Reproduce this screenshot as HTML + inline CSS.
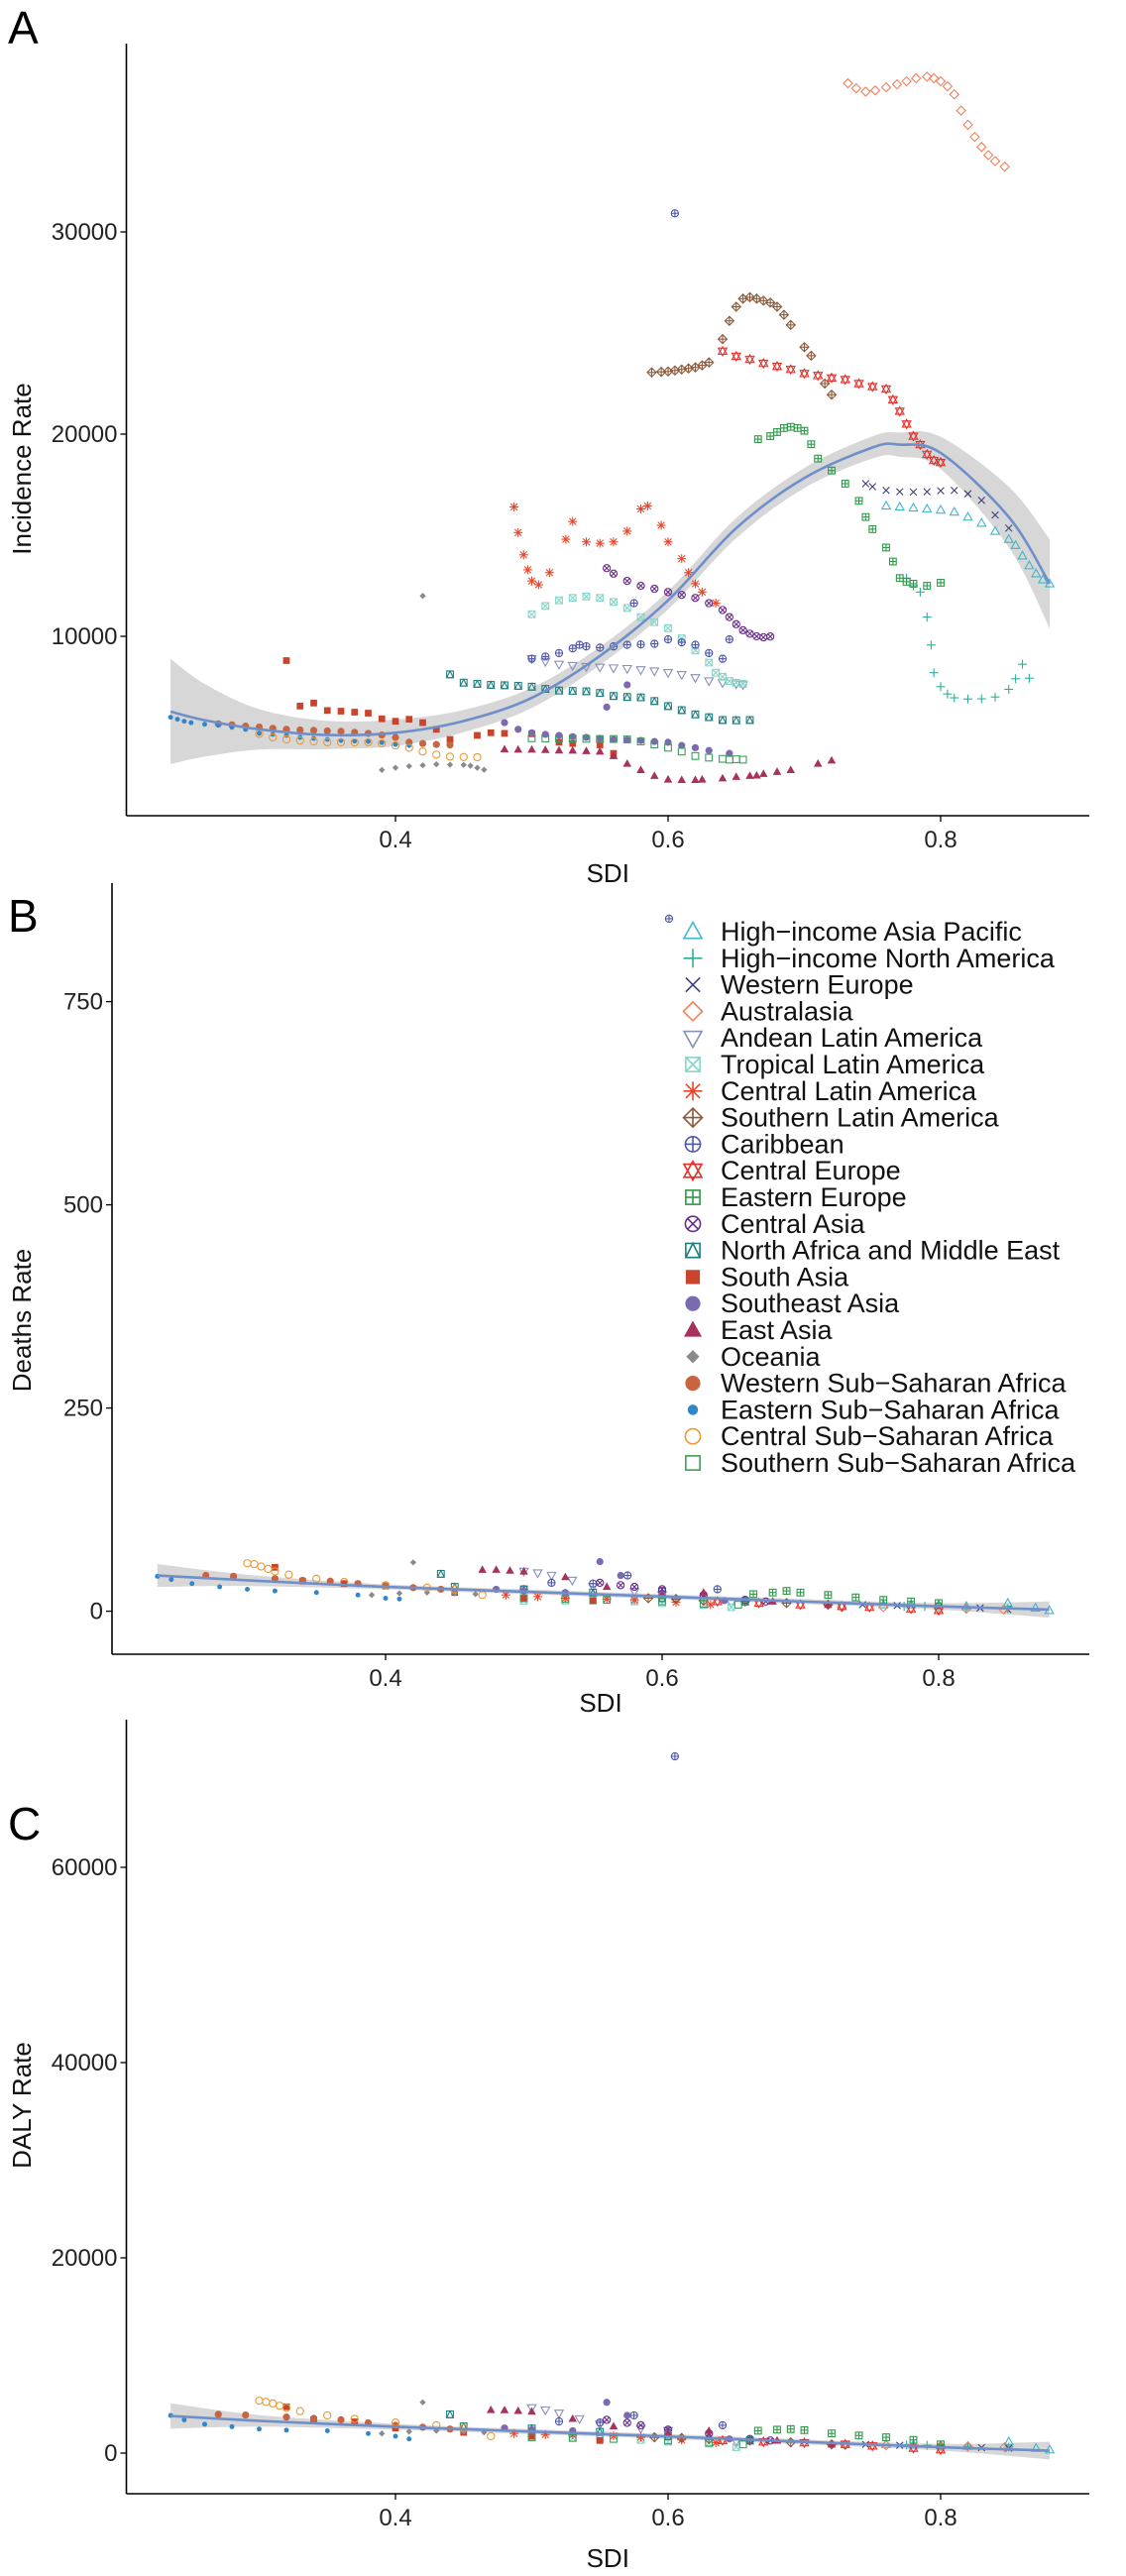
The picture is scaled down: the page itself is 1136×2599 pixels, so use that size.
<!DOCTYPE html>
<html><head><meta charset="utf-8"><style>
html,body{margin:0;padding:0;background:#fff;}
svg{display:block;font-family:"Liberation Sans",sans-serif;}
</style></head><body>
<svg id="fig" width="1136" height="2599" viewBox="0 0 1136 2599"></svg>
<script>
// ===== Panel A (Incidence) data: SDI and incidence rate per region =====
const hiapSdiA=[0.76,0.77,0.78,0.79,0.80,0.81,0.82,0.83,0.84,0.85,0.855,0.86,0.865,0.87,0.875,0.88];
const hiapInc=[16450,16400,16350,16300,16250,16150,15900,15600,15200,14800,14500,13980,13500,13100,12800,12600];
const hinaSdiA=[0.775,0.78,0.785,0.79,0.793,0.795,0.80,0.805,0.81,0.82,0.83,0.84,0.85,0.855,0.86,0.865];
const hinaInc=[12880,12500,12190,10950,9570,8200,7510,7150,6960,6900,6910,7000,7380,7900,8620,7930];
const weSdiA=[0.745,0.75,0.76,0.77,0.78,0.79,0.80,0.81,0.82,0.83,0.84,0.85];
const weInc=[17550,17400,17220,17150,17140,17150,17200,17220,17050,16730,16000,15350];
const ausSdiA=[0.732,0.738,0.745,0.752,0.76,0.768,0.775,0.782,0.79,0.795,0.80,0.805,0.81,0.815,0.82,0.825,0.83,0.835,0.84,0.847];
const ausInc=[37350,37100,36940,37000,37150,37300,37450,37600,37680,37600,37450,37200,36800,36000,35300,34700,34200,33800,33500,33230];
const andSdiA=[0.50,0.51,0.52,0.53,0.54,0.55,0.56,0.57,0.58,0.59,0.60,0.61,0.62,0.63,0.64,0.65,0.655];
const andInc=[8890,8750,8610,8550,8500,8470,8430,8400,8340,8280,8200,8100,7950,7790,7700,7640,7600];
const tlaSdiA=[0.50,0.51,0.52,0.53,0.54,0.55,0.56,0.57,0.58,0.59,0.60,0.61,0.62,0.63,0.635,0.64,0.645,0.65,0.655];
const tlaInc=[11090,11500,11780,11900,11970,11900,11700,11400,10950,10700,10400,9900,9300,8700,8200,8000,7790,7700,7650];
const claSdiA=[0.487,0.49,0.494,0.497,0.50,0.505,0.513,0.525,0.53,0.54,0.55,0.56,0.57,0.58,0.585,0.595,0.60,0.61,0.615,0.62,0.625,0.635];
const claInc=[16400,15130,14030,13290,12740,12550,13150,14800,15680,14670,14600,14670,15200,16300,16450,15490,14670,13840,13150,12600,12190,11640];
const slaSdiA=[0.588,0.595,0.60,0.605,0.61,0.615,0.62,0.625,0.63,0.64,0.645,0.65,0.655,0.66,0.665,0.67,0.675,0.68,0.685,0.69,0.70,0.705,0.715,0.72];
const slaInc=[23050,23080,23100,23150,23200,23250,23300,23400,23550,24700,25600,26300,26700,26770,26700,26600,26500,26300,25900,25400,24300,23880,22500,21950];
const carSdiA=[0.50,0.51,0.52,0.53,0.535,0.54,0.55,0.56,0.57,0.58,0.59,0.60,0.61,0.62,0.63,0.64,0.605,0.575,0.645];
const carInc=[8890,9000,9170,9400,9580,9500,9440,9500,9580,9600,9630,9850,9700,9580,9170,8890,30920,11640,9850];
const ceSdiA=[0.64,0.65,0.66,0.67,0.68,0.69,0.70,0.71,0.72,0.73,0.74,0.75,0.76,0.765,0.77,0.775,0.78,0.785,0.79,0.795,0.80];
const ceInc=[24100,23850,23700,23500,23350,23200,23000,22900,22780,22700,22500,22350,22230,21700,21130,20500,19900,19480,19000,18700,18600];
const eeSdiA=[0.666,0.675,0.68,0.685,0.69,0.695,0.70,0.705,0.71,0.72,0.73,0.74,0.745,0.75,0.76,0.765,0.77,0.775,0.78,0.79,0.80];
const eeInc=[19750,19900,20100,20300,20360,20300,20165,19500,18790,18200,17550,16700,15900,15300,14390,13700,12880,12700,12600,12500,12650];
const caSdiA=[0.555,0.56,0.57,0.58,0.59,0.60,0.61,0.62,0.63,0.64,0.645,0.65,0.655,0.66,0.665,0.67,0.675];
const caInc=[13370,13100,12740,12500,12350,12190,12050,11900,11640,11300,10950,10600,10300,10130,10000,9950,9990];
const nameSdiA=[0.44,0.45,0.46,0.47,0.48,0.49,0.50,0.51,0.52,0.53,0.54,0.55,0.56,0.57,0.58,0.59,0.60,0.61,0.62,0.63,0.64,0.65,0.66];
const nameInc=[8120,7710,7650,7600,7580,7550,7510,7400,7320,7300,7280,7200,7050,7000,6980,6800,6550,6350,6140,6000,5860,5850,5860];
const saSdiA=[0.32,0.33,0.34,0.35,0.36,0.37,0.38,0.39,0.40,0.41,0.42,0.43,0.44,0.46,0.47,0.48,0.50,0.52,0.53,0.55,0.56];
const saInc=[8800,6550,6700,6330,6300,6250,6200,5920,5800,5900,5730,5400,4900,5100,5230,5200,5180,4760,4700,4630,4210];
const seaSdiA=[0.48,0.49,0.50,0.51,0.52,0.53,0.54,0.55,0.56,0.57,0.58,0.59,0.60,0.61,0.62,0.63,0.645,0.555,0.57];
const seaInc=[5730,5400,5230,5150,5100,5040,5000,4950,4900,4880,4850,4800,4760,4600,4490,4350,4210,6500,7600];
const eaSdiA=[0.48,0.49,0.50,0.51,0.52,0.53,0.54,0.55,0.56,0.57,0.58,0.59,0.60,0.61,0.62,0.625,0.64,0.65,0.66,0.665,0.67,0.68,0.69,0.71,0.72];
const eaInc=[4410,4400,4400,4380,4360,4350,4330,4300,4080,3700,3390,3100,2920,2900,2900,2920,2980,3050,3100,3120,3200,3300,3390,3700,3860];
const ocSdiA=[0.42,0.39,0.40,0.41,0.42,0.43,0.44,0.45,0.455,0.46,0.465];
const ocInc=[12000,3390,3500,3580,3620,3670,3650,3640,3600,3500,3400];
const wssaSdiA=[0.27,0.28,0.29,0.30,0.31,0.32,0.33,0.34,0.35,0.36,0.37,0.38,0.39,0.40,0.41,0.42,0.43,0.44];
const wssaInc=[5670,5620,5560,5510,5450,5400,5370,5350,5320,5300,5250,5200,5120,5000,4760,4700,4650,4630];
const essaSdiA=[0.235,0.24,0.245,0.25,0.26,0.27,0.28,0.29,0.30,0.31,0.32,0.33,0.34,0.35,0.36,0.37,0.38,0.39,0.40,0.41];
const essaInc=[6000,5900,5800,5730,5650,5600,5500,5400,5200,5150,5100,5000,4950,4900,4850,4820,4800,4750,4650,4600];
const cssaSdiA=[0.30,0.31,0.32,0.33,0.34,0.35,0.36,0.37,0.38,0.39,0.40,0.41,0.42,0.43,0.44,0.45,0.46];
const cssaInc=[5180,5000,4900,4850,4800,4760,4760,4750,4760,4700,4600,4490,4300,4150,4050,4030,4020];
const sssaSdiA=[0.50,0.51,0.52,0.53,0.54,0.55,0.56,0.57,0.58,0.59,0.60,0.61,0.62,0.63,0.64,0.645,0.65,0.655];
const sssaInc=[4960,4950,4950,4940,4930,4920,4920,4900,4800,4650,4490,4300,4080,4000,3940,3900,3920,3900];
// LOESS fit (panel A)
const fitSdiA=[0.235,0.26,0.30,0.35,0.40,0.45,0.50,0.55,0.60,0.65,0.70,0.75,0.77,0.80,0.85,0.88];
const fitIncA=[6280,5850,5400,5120,5230,5810,6960,9030,11780,15350,17830,19340,19480,19070,15900,12600];
const fitSeA=[2600,1800,1000,700,650,550,500,450,450,500,500,550,600,800,1500,2200];

// ===== Panels B/C (Deaths / DALY) data =====
const hiapSdiB=[0.76,0.78,0.80,0.82,0.85,0.87,0.88];  const hiapDeath=[8,8,8,6,10,4,1];   const hiapDaly=[890,850,780,700,1170,500,340];
const hinaSdiB=[0.775,0.79,0.80,0.82,0.85];           const hinaDeath=[6,6,5,4,3];        const hinaDaly=[840,800,730,680,610];
const weSdiB=[0.745,0.77,0.80,0.83,0.85];             const weDeath=[8,7,5,4,2];          const weDaly=[890,800,610,560,500];
const ausSdiB=[0.73,0.76,0.80,0.82,0.847];            const ausDeath=[5,5,3,3,2];         const ausDaly=[840,800,730,680,610];
const andSdiB=[0.50,0.51,0.52,0.535,0.55,0.58,0.60,0.65]; const andDeath=[49,47,44,38,30,24,20,10]; const andDaly=[4640,4400,4080,3500,2960,2500,2290,1170];
const tlaSdiB=[0.50,0.53,0.55,0.58,0.60,0.63,0.65];   const tlaDeath=[13,13,13,12,10,8,5]; const tlaDaly=[1620,1550,1450,1350,1170,1000,610];
const claSdiB=[0.487,0.51,0.53,0.56,0.58,0.61,0.635]; const claDeath=[20,18,16,15,14,11,8]; const claDaly=[2010,1900,1850,1750,1620,1350,1060];
const slaSdiB=[0.59,0.61,0.63,0.66,0.69,0.72];        const slaDeath=[16,15,13,12,10,8];   const slaDaly=[1620,1550,1450,1290,1100,890];
const carSdiB=[0.50,0.52,0.55,0.575,0.60,0.64,0.605]; const carDeath=[27,35,34,44,25,27,852]; const carDaly=[2290,3240,3130,3860,2400,2850,71370];
const ceSdiB=[0.64,0.67,0.70,0.73,0.75,0.78,0.80];    const ceDeath=[12,10,8,6,5,3,1];    const ceDaly=[1290,1150,1060,900,730,500,340];
const eeSdiB=[0.666,0.68,0.69,0.70,0.72,0.74,0.76,0.78,0.80]; const eeDeath=[21,23,25,23,20,17,14,12,10]; const eeDaly=[2290,2400,2460,2350,2010,1800,1620,1350,890];
const caSdiB=[0.555,0.57,0.58,0.60,0.63,0.66,0.675];  const caDeath=[35,32,30,27,20,14,12]; const caDaly=[3410,3100,2850,2400,2010,1450,1290];
const nameSdiB=[0.44,0.45,0.50,0.55,0.60,0.66];       const nameDeath=[46,30,27,23,16,12]; const nameDaly=[3970,2740,2520,2180,1730,1290];
const saSdiB=[0.32,0.34,0.37,0.40,0.45,0.50,0.55];    const saDeath=[54,37,34,31,23,16,13]; const saDaly=[4750,3410,3200,2570,2120,1730,1290];
const seaSdiB=[0.48,0.50,0.53,0.555,0.57,0.60,0.645]; const seaDeath=[27,25,23,61,44,20,13]; const seaDaly=[2570,2400,2290,5200,3860,2010,1450];
const eaSdiB=[0.47,0.48,0.49,0.50,0.53,0.56,0.60,0.63,0.68,0.72]; const eaDeath=[51,51,50,49,42,30,20,23,12,8]; const eaDaly=[4420,4400,4330,4250,3520,2740,2010,2290,1290,890];
const ocSdiB=[0.42,0.39,0.41,0.43,0.45,0.465];        const ocDeath=[60,20,22,23,22,21];   const ocDaly=[5200,2010,2200,2290,2200,2120];
const wssaSdiB=[0.27,0.29,0.32,0.34,0.36,0.38,0.40,0.42,0.44]; const wssaDeath=[44,43,40,38,37,34,31,29,27]; const wssaDaly=[3970,3900,3690,3550,3410,3100,2850,2650,2460];
const essaSdiB=[0.235,0.245,0.26,0.28,0.30,0.32,0.35,0.38,0.40,0.41]; const essaDeath=[43,39,34,30,27,25,23,20,16,15]; const essaDaly=[3860,3400,2960,2700,2460,2350,2290,2000,1730,1450];
const cssaSdiB=[0.30,0.305,0.31,0.315,0.32,0.33,0.35,0.37,0.40,0.43,0.45,0.47]; const cssaDeath=[59,58,55,52,49,45,40,36,32,29,27,20]; const cssaDaly=[5370,5250,5090,4850,4640,4300,3860,3500,3130,2850,2570,1730];
const sssaSdiB=[0.50,0.53,0.56,0.60,0.63,0.655];      const sssaDeath=[16,15,14,12,9,8];   const sssaDaly=[1620,1550,1450,1290,1060,890];
// Fits (B, C)
const fitSdiB=[0.235,0.30,0.40,0.50,0.60,0.70,0.80,0.88];
const fitDeath=[44,38,30,24,18,12,6,2];
const fitSeB=[14,7,3,3,3,3,4,10];
const fitDaly=[3800,3300,2700,2200,1700,1150,600,250];
const fitSeC=[1300,600,300,250,250,250,350,900];

// ===== legend / region metadata =====
const regionNames=["High−income Asia Pacific","High−income North America","Western Europe","Australasia","Andean Latin America","Tropical Latin America","Central Latin America","Southern Latin America","Caribbean","Central Europe","Eastern Europe","Central Asia","North Africa and Middle East","South Asia","Southeast Asia","East Asia","Oceania","Western Sub−Saharan Africa","Eastern Sub−Saharan Africa","Central Sub−Saharan Africa","Southern Sub−Saharan Africa"];
const regionColors=["#3FB6CC","#2EAE96","#3A3F7A","#F0805A","#8890B8","#88D4C8","#E8462A","#8B5A3A","#4F58A8","#E8302A","#2E9A48","#6A2C8A","#1F7F80","#C8442C","#7B6AB0","#A8325E","#8A8A8A","#C86440","#2F86C8","#E89A38","#3AA05A"];

const seriesA=[[hiapSdiA,hiapInc],[hinaSdiA,hinaInc],[weSdiA,weInc],[ausSdiA,ausInc],[andSdiA,andInc],[tlaSdiA,tlaInc],[claSdiA,claInc],[slaSdiA,slaInc],[carSdiA,carInc],[ceSdiA,ceInc],[eeSdiA,eeInc],[caSdiA,caInc],[nameSdiA,nameInc],[saSdiA,saInc],[seaSdiA,seaInc],[eaSdiA,eaInc],[ocSdiA,ocInc],[wssaSdiA,wssaInc],[essaSdiA,essaInc],[cssaSdiA,cssaInc],[sssaSdiA,sssaInc]];
const seriesB=[[hiapSdiB,hiapDeath,hiapDaly],[hinaSdiB,hinaDeath,hinaDaly],[weSdiB,weDeath,weDaly],[ausSdiB,ausDeath,ausDaly],[andSdiB,andDeath,andDaly],[tlaSdiB,tlaDeath,tlaDaly],[claSdiB,claDeath,claDaly],[slaSdiB,slaDeath,slaDaly],[carSdiB,carDeath,carDaly],[ceSdiB,ceDeath,ceDaly],[eeSdiB,eeDeath,eeDaly],[caSdiB,caDeath,caDaly],[nameSdiB,nameDeath,nameDaly],[saSdiB,saDeath,saDaly],[seaSdiB,seaDeath,seaDaly],[eaSdiB,eaDeath,eaDaly],[ocSdiB,ocDeath,ocDaly],[wssaSdiB,wssaDeath,wssaDaly],[essaSdiB,essaDeath,essaDaly],[cssaSdiB,cssaDeath,cssaDaly],[sssaSdiB,sssaDeath,sssaDaly]];

const xTicks=[0.4,0.6,0.8];
const yTicksA=[10000,20000,30000];
const yTicksB=[0,250,500,750];
const yTicksC=[0,20000,40000,60000];

const NS="http://www.w3.org/2000/svg";
const svg=document.getElementById('fig');
function mk(tag,attrs,parent){const e=document.createElementNS(NS,tag);for(const k in attrs)e.setAttribute(k,attrs[k]);(parent||svg).appendChild(e);return e;}

function smooth(pts){
  let d=`M${pts[0][0]},${pts[0][1]}`;
  for(let i=0;i<pts.length-1;i++){
    const p0=pts[Math.max(0,i-1)],p1=pts[i],p2=pts[i+1],p3=pts[Math.min(pts.length-1,i+2)];
    const c1=[p1[0]+(p2[0]-p0[0])/6,p1[1]+(p2[1]-p0[1])/6];
    const c2=[p2[0]-(p3[0]-p1[0])/6,p2[1]-(p3[1]-p1[1])/6];
    d+=` C${c1[0]},${c1[1]} ${c2[0]},${c2[1]} ${p2[0]},${p2[1]}`;
  }
  return d;
}

function sym(g,t,x,y,c,r){
  const sw=r>6?1.6:1.1;
  const o={fill:"none",stroke:c,"stroke-width":sw};
  const tri=(s)=>`${x},${y-s*r} ${x-r*0.95},${y+s*r*0.7} ${x+r*0.95},${y+s*r*0.7}`;
  const sq=(k)=>mk('rect',Object.assign({x:x-r*k,y:y-r*k,width:2*r*k,height:2*r*k},o),g);
  const ln=(a,b,c2,d)=>mk('line',{x1:a,y1:b,x2:c2,y2:d,stroke:c,"stroke-width":sw},g);
  switch(t){
    case 0: mk('polygon',Object.assign({points:tri(1)},o),g);break;
    case 1: ln(x-r,y,x+r,y);ln(x,y-r,x,y+r);break;
    case 2: ln(x-r*.75,y-r*.75,x+r*.75,y+r*.75);ln(x-r*.75,y+r*.75,x+r*.75,y-r*.75);break;
    case 3: mk('polygon',Object.assign({points:`${x},${y-r} ${x+r},${y} ${x},${y+r} ${x-r},${y}`},o),g);break;
    case 4: mk('polygon',Object.assign({points:tri(-1)},o),g);break;
    case 5: sq(.75);ln(x-r*.75,y-r*.75,x+r*.75,y+r*.75);ln(x-r*.75,y+r*.75,x+r*.75,y-r*.75);break;
    case 6: ln(x-r,y,x+r,y);ln(x,y-r,x,y+r);ln(x-r*.75,y-r*.75,x+r*.75,y+r*.75);ln(x-r*.75,y+r*.75,x+r*.75,y-r*.75);break;
    case 7: mk('polygon',Object.assign({points:`${x},${y-r} ${x+r},${y} ${x},${y+r} ${x-r},${y}`},o),g);ln(x-r,y,x+r,y);ln(x,y-r,x,y+r);break;
    case 8: mk('circle',Object.assign({cx:x,cy:y,r:r*.8},o),g);ln(x-r*.8,y,x+r*.8,y);ln(x,y-r*.8,x,y+r*.8);break;
    case 9: mk('polygon',Object.assign({points:tri(1)},o),g);mk('polygon',Object.assign({points:tri(-1)},o),g);break;
    case 10: sq(.75);ln(x-r*.75,y,x+r*.75,y);ln(x,y-r*.75,x,y+r*.75);break;
    case 11: mk('circle',Object.assign({cx:x,cy:y,r:r*.8},o),g);ln(x-r*.56,y-r*.56,x+r*.56,y+r*.56);ln(x-r*.56,y+r*.56,x+r*.56,y-r*.56);break;
    case 12: sq(.75);mk('polygon',Object.assign({points:`${x},${y-r*.75} ${x-r*.75},${y+r*.75} ${x+r*.75},${y+r*.75}`},o),g);break;
    case 13: mk('rect',{x:x-r*.75,y:y-r*.75,width:1.5*r,height:1.5*r,fill:c},g);break;
    case 14: mk('circle',{cx:x,cy:y,r:r*.8,fill:c},g);break;
    case 15: mk('polygon',{points:tri(1),fill:c},g);break;
    case 16: mk('polygon',{points:`${x},${y-r*.7} ${x+r*.7},${y} ${x},${y+r*.7} ${x-r*.7},${y}`,fill:c},g);break;
    case 17: mk('circle',{cx:x,cy:y,r:r*.8,fill:c},g);break;
    case 18: mk('circle',{cx:x,cy:y,r:r*.55,fill:c},g);break;
    case 19: mk('circle',Object.assign({cx:x,cy:y,r:r*.8},o),g);break;
    case 20: sq(.75);break;
  }
}

function panel(cfg){
  const g=mk('g',{});
  
  
  const {X,Y}=cfg;
  const up=cfg.fitX.map((s,i)=>[X(s),Y(cfg.fitY[i]+cfg.fitSe[i])]);
  const dn=cfg.fitX.map((s,i)=>[X(s),Y(cfg.fitY[i]-cfg.fitSe[i])]).reverse();
  const bd=smooth(up)+' L'+dn[0][0]+','+dn[0][1]+smooth(dn).replace(/^M[^C]*/,' ')+' Z';
  const band=mk('path',{d:bd,fill:"#D3D3D3","fill-opacity":0.9},g);
  
  
  cfg.series.forEach((s,i)=>{
    const sg=mk('g',{},g);
    
    
    s[0].forEach((sd,j)=>sym(sg,i,X(sd),Y(s[cfg.vi][j]),regionColors[i],4.5));
  });
  const fl=mk('path',{d:smooth(cfg.fitX.map((s,i)=>[X(s),Y(cfg.fitY[i])])),fill:'none',stroke:'#6F8FCB','stroke-width':2.6,'stroke-linejoin':'round'},g);
  
  
  const ax=mk('g',{},g);
  
  
  mk('line',{x1:cfg.ax,y1:cfg.top,x2:cfg.ax,y2:cfg.bot,stroke:'#000','stroke-width':1.6},ax);
  mk('line',{x1:cfg.ax,y1:cfg.bot,x2:1099,y2:cfg.bot,stroke:'#000','stroke-width':1.6},ax);
  xTicks.forEach(t=>{
    mk('line',{x1:X(t),y1:cfg.bot,x2:X(t),y2:cfg.bot+6,stroke:'#000','stroke-width':1.3},ax);
    const tx=mk('text',{x:X(t),y:cfg.bot+32,'font-size':24,'text-anchor':'middle',fill:'#222'},ax);tx.textContent=t.toFixed(1);
    
    
  });
  cfg.yTicks.forEach(t=>{
    mk('line',{x1:cfg.ax-6,y1:Y(t),x2:cfg.ax,y2:Y(t),stroke:'#000','stroke-width':1.3},ax);
    const tx=mk('text',{x:cfg.ax-9,y:Y(t)+8,'font-size':24,'text-anchor':'end',fill:'#222'},ax);tx.textContent=String(t);
    
    
  });
  const xt=mk('text',{x:(cfg.ax+1099)/2,y:cfg.xtY,'font-size':26,'text-anchor':'middle',fill:'#111'},g);xt.textContent='SDI';
  
  
  const yt=mk('text',{x:0,y:0,'font-size':26,'text-anchor':'middle',fill:'#111',transform:`translate(31,${cfg.ytY}) rotate(-90)`},g);yt.textContent=cfg.ytitle;
  
  
  const pl=mk('text',{x:8,y:cfg.plY,'font-size':46,fill:'#000'},g);pl.textContent=cfg.letter;
  
  
}

const XA=s=>399+(s-0.4)*1375;
panel({name:'panel-a-incidence',X:XA,Y:v=>438-(v-20000)*0.0204,series:seriesA,vi:1,fitX:fitSdiA,fitY:fitIncA,fitSe:fitSeA,ax:127.5,top:44,bot:823,yTicks:yTicksA,xtY:890,ytitle:'Incidence Rate',ytY:473,letter:'A',plY:44});
panel({name:'panel-b-deaths',X:s=>389+(s-0.4)*1395,Y:v=>1625.6-v*0.82,series:seriesB,vi:1,fitX:fitSdiB,fitY:fitDeath,fitSe:fitSeB,ax:113,top:891,bot:1669,yTicks:yTicksB,xtY:1727,ytitle:'Deaths Rate',ytY:1332,letter:'B',plY:940});
panel({name:'panel-c-daly',X:XA,Y:v=>2475-v*0.00985,series:seriesB,vi:2,fitX:fitSdiB,fitY:fitDaly,fitSe:fitSeC,ax:127.5,top:1735,bot:2516,yTicks:yTicksC,xtY:2590,ytitle:'DALY Rate',ytY:2124,letter:'C',plY:1856});

const lg=mk('g',{});


regionNames.forEach((n,i)=>{
  const y=940+i*26.8;
  const e=mk('g',{},lg);
  
  
  sym(e,i,699,y,regionColors[i],9.5);
  const t=mk('text',{x:727,y:y+9,'font-size':27,fill:'#111'},e);t.textContent=n;
});
</script>
</body></html>
